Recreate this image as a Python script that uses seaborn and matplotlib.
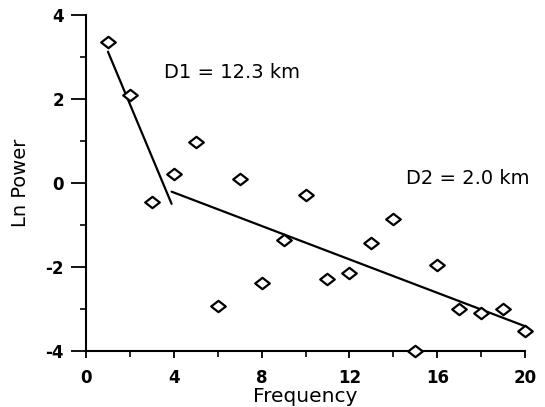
import matplotlib
matplotlib.use("Agg")
import matplotlib.pyplot as plt
from matplotlib.path import Path
from matplotlib.ticker import MultipleLocator
import seaborn as sns
import pandas as pd

# Data
frequency = [1, 2, 3, 4, 5, 6, 7, 8, 9, 10, 11, 12, 13, 14, 15, 16, 17, 18, 19, 20]
ln_power = [3.35, 2.1, -0.46, 0.2, 0.97, -2.94, 0.08, -2.39, -1.35, -0.28,
            -2.29, -2.15, -1.42, -0.86, -3.99, -1.96, -3.01, -3.1, -3.01, -3.53]
fit1_x = [1.0, 3.9]
fit1_y = [3.12, -0.5]
fit2_x = [3.9, 20.0]
fit2_y = [-0.21, -3.41]
x_ticks = [0, 4, 8, 12, 16, 20]
y_ticks = [-4, -2, 0, 2, 4]
label_d1 = "D1 = 12.3 km"
label_d2 = "D2 = 2.0 km"

sns.set_style("ticks")
plt.rcParams['font.family'] = ['DejaVu Sans']
plt.rcParams['axes.unicode_minus'] = False
plt.rcParams['text.color'] = 'black'
plt.rcParams['axes.labelcolor'] = 'black'
plt.rcParams['xtick.color'] = 'black'
plt.rcParams['ytick.color'] = 'black'
plt.rcParams['axes.edgecolor'] = 'black'

fig = plt.figure(figsize=(5.45, 4.07), dpi=100)
ax = fig.add_axes([86/545, 1-351/407, (525-86)/545, (351-14.7)/407])

df = pd.DataFrame({"Frequency": frequency, "Ln Power": ln_power})
diamond = Path([(-1, 0), (0, 0.78), (1, 0), (0, -0.78), (-1, 0)],
               [Path.MOVETO, Path.LINETO, Path.LINETO, Path.LINETO, Path.CLOSEPOLY])

sns.lineplot(x=fit1_x, y=fit1_y, ax=ax, color="black", linewidth=1.6, sort=False)
sns.lineplot(x=fit2_x, y=fit2_y, ax=ax, color="black", linewidth=1.6, sort=False)
sns.scatterplot(data=df, x="Frequency", y="Ln Power", ax=ax, marker=diamond, s=110,
                facecolor="white", edgecolor="black", linewidth=1.6, zorder=5, clip_on=False)

ax.set_xlim(0, 20)
ax.set_ylim(-4, 4)
ax.set_xticks(x_ticks)
ax.set_yticks(y_ticks)
ax.xaxis.set_minor_locator(MultipleLocator(2))
ax.yaxis.set_minor_locator(MultipleLocator(1))
ax.tick_params(which="major", direction="out", width=1.3, labelsize=12, colors="black")
ax.tick_params(axis="x", which="major", length=5, pad=8)
ax.tick_params(axis="y", which="major", length=11, pad=5)
ax.tick_params(which="minor", direction="out", length=4.5, width=1.2, colors="black")
for lab in ax.get_xticklabels() + ax.get_yticklabels():
    lab.set_fontweight("bold")

sns.despine(ax=ax)
for sp in ["left", "bottom"]:
    ax.spines[sp].set_linewidth(1.5)
    ax.spines[sp].set_color("black")

ax.set_xlabel("Frequency", fontsize=14.5, labelpad=0, color="black")
ax.set_ylabel("Ln Power", fontsize=14, labelpad=11, color="black")

ax.text(3.55, 2.62, label_d1, fontsize=14, va="center", ha="left", color="black")
ax.text(14.6, 0.1, label_d2, fontsize=14, va="center", ha="left", color="black")

fig.savefig("out.png", dpi=100)
